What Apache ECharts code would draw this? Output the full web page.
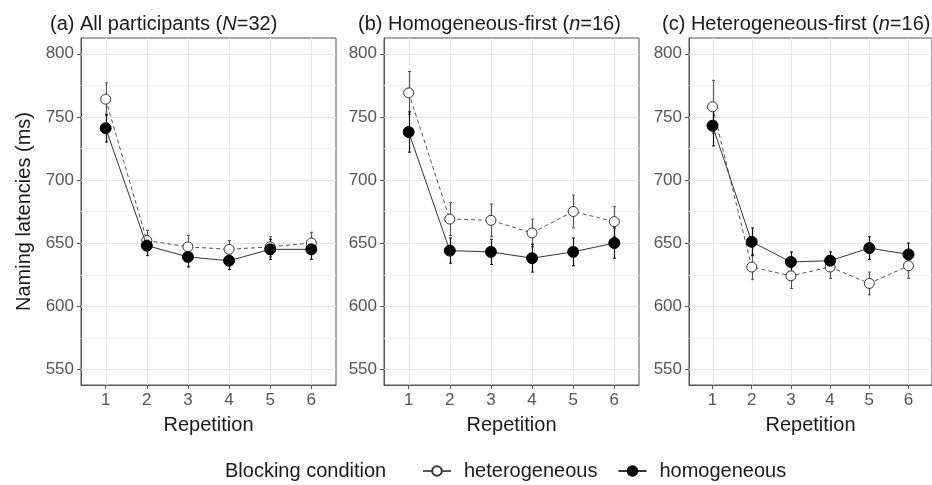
<!DOCTYPE html>
<html>
<head>
<meta charset="utf-8">
<script src="https://cdn.jsdelivr.net/npm/echarts@6/dist/echarts.min.js"></script>
<style>
  html, body { margin: 0; padding: 0; background: #fff; }
  #chart { width: 932px; height: 485px; }
</style>
</head>
<body>
<div id="chart"></div>
<script>
// Repetition levels (x) and axis ticks
const repetitions = [1, 2, 3, 4, 5, 6];
const yTicks = [550, 600, 650, 700, 750, 800];
const yMinorGrid = [575, 625, 675, 725, 775];

// Panel titles ({i|...} is set in italics)
const panelTitles = [
  '(a) All participants ({i|N}=32)',
  '(b) Homogeneous-first ({i|n}=16)',
  '(c) Heterogeneous-first ({i|n}=16)'
];

// Mean naming latencies (ms) per repetition
const heteroAll   = [764, 652, 647, 645, 647, 650];
const homoAll     = [741, 648, 639, 636, 645, 645];
const heteroHomFirst = [769, 669, 668, 658, 675, 667];
const homoHomFirst   = [738, 644, 643, 638, 643, 650];
const heteroHetFirst = [758, 631, 624, 631, 618, 632];
const homoHetFirst   = [743, 651, 635, 636, 646, 641];

// Error bar half-widths (ms)
const heteroAllErr   = [13, 8, 9, 7, 8, 8.5];
const homoAllErr     = [11, 8, 8, 7, 8, 8];
const heteroHomFirstErr = [17, 13, 13, 11, 13, 12];
const homoHomFirstErr   = [16, 10, 10, 11, 11, 12];
const heteroHetFirstErr = [21, 10, 10, 9, 9, 10];
const homoHetFirstErr   = [16, 11, 8, 7, 9, 9];

const panels = [
  { hetero: heteroAll, homo: homoAll, heteroErr: heteroAllErr, homoErr: homoAllErr },
  { hetero: heteroHomFirst, homo: homoHomFirst, heteroErr: heteroHomFirstErr, homoErr: homoHomFirstErr },
  { hetero: heteroHetFirst, homo: homoHetFirst, heteroErr: heteroHetFirstErr, homoErr: homoHetFirstErr }
];

const FONT = '"Liberation Sans", Arial, sans-serif';
const X_MIN = 0.4, X_MAX = 6.6, Y_MIN = 537.5, Y_MAX = 812.5;
const gridLefts = [81, 384, 689];
const titleLefts = [45, 353, 657];

function gridLineSeries(p, values, horizontal, color) {
  return {
    type: 'custom', xAxisIndex: p, yAxisIndex: p, silent: true, z: 1, animation: false,
    data: values.map(v => horizontal ? [X_MIN, v] : [v, Y_MIN]),
    renderItem(params, api) {
      const cs = params.coordSys;
      const pt = api.coord([api.value(0), api.value(1)]);
      const shape = horizontal
        ? { x1: cs.x, y1: Math.round(pt[1]) + 0.5, x2: cs.x + cs.width, y2: Math.round(pt[1]) + 0.5 }
        : { x1: Math.round(pt[0]) + 0.5, y1: cs.y, x2: Math.round(pt[0]) + 0.5, y2: cs.y + cs.height };
      return { type: 'line', shape, style: { stroke: color, lineWidth: 1 } };
    }
  };
}

function errorBarSeries(p, means, errs, color) {
  return {
    type: 'custom', xAxisIndex: p, yAxisIndex: p, silent: true, z: 3, animation: false,
    data: repetitions.map((r, i) => [r, means[i] - errs[i], means[i] + errs[i]]),
    encode: { x: 0, y: [1, 2] },
    renderItem(params, api) {
      const lo = api.coord([api.value(0), api.value(1)]);
      const hi = api.coord([api.value(0), api.value(2)]);
      const x = Math.round(lo[0]) + 0.5;
      return {
        type: 'group',
        children: [
          { type: 'line', shape: { x1: x, y1: lo[1], x2: x, y2: hi[1] }, style: { stroke: color, lineWidth: 1.2 } },
          { type: 'line', shape: { x1: x - 1.5, y1: lo[1], x2: x + 1.5, y2: lo[1] }, style: { stroke: color, lineWidth: 1 } },
          { type: 'line', shape: { x1: x - 1.5, y1: hi[1], x2: x + 1.5, y2: hi[1] }, style: { stroke: color, lineWidth: 1 } }
        ]
      };
    }
  };
}

const grids = [], xAxes = [], yAxes = [], titles = [], series = [];

panels.forEach((pd, p) => {
  grids.push({
    left: gridLefts[p], top: 38, width: 255, height: 347,
    show: true, borderColor: '#555', borderWidth: 1, backgroundColor: 'transparent'
  });
  xAxes.push({
    type: 'value', gridIndex: p, min: X_MIN, max: X_MAX,
    axisLine: { show: true, lineStyle: { color: '#555', width: 1 } },
    axisTick: { show: true, customValues: repetitions, length: 4, lineStyle: { color: '#555' } },
    axisLabel: { customValues: repetitions, fontSize: 17, color: '#555', margin: 7, fontFamily: FONT },
    splitLine: { show: false },
    name: 'Repetition', nameLocation: 'middle', nameGap: 30,
    nameTextStyle: { fontSize: 20, color: '#1a1a1a', fontFamily: FONT }
  });
  yAxes.push({
    type: 'value', gridIndex: p, min: Y_MIN, max: Y_MAX,
    axisLine: { show: true, lineStyle: { color: '#555', width: 1 } },
    axisTick: { show: true, customValues: yTicks, length: 4, lineStyle: { color: '#555' } },
    axisLabel: { customValues: yTicks, fontSize: 17, color: '#555', margin: 7, fontFamily: FONT },
    splitLine: { show: false },
    name: p === 0 ? 'Naming latencies (ms)' : '',
    nameLocation: 'middle', nameGap: 47,
    nameTextStyle: { fontSize: 20, color: '#1a1a1a', fontFamily: FONT }
  });
  titles.push({
    text: panelTitles[p], left: titleLefts[p], top: 9,
    textStyle: {
      fontSize: 20, fontWeight: 'normal', color: '#1a1a1a', fontFamily: FONT,
      rich: { i: { fontStyle: 'italic', fontSize: 20, color: '#1a1a1a', fontFamily: FONT } }
    }
  });

  series.push(gridLineSeries(p, yMinorGrid, true, '#f4f4f4'));
  series.push(gridLineSeries(p, yTicks, true, '#e6e6e6'));
  series.push(gridLineSeries(p, repetitions, false, '#e6e6e6'));
  series.push(errorBarSeries(p, pd.hetero, pd.heteroErr, '#555'));
  series.push(errorBarSeries(p, pd.homo, pd.homoErr, '#111'));
  series.push({
    type: 'line', name: 'heterogeneous', xAxisIndex: p, yAxisIndex: p, z: 4, animation: false,
    data: repetitions.map((r, i) => [r, pd.hetero[i]]),
    symbol: 'circle', symbolSize: 10, showAllSymbol: true,
    itemStyle: { color: '#fff', borderColor: '#333', borderWidth: 1 },
    lineStyle: { color: '#555', width: 1, type: [4, 3] }
  });
  series.push({
    type: 'line', name: 'homogeneous', xAxisIndex: p, yAxisIndex: p, z: 5, animation: false,
    data: repetitions.map((r, i) => [r, pd.homo[i]]),
    symbol: 'circle', symbolSize: 11, showAllSymbol: true,
    itemStyle: { color: '#000', borderColor: '#000', borderWidth: 1 },
    lineStyle: { color: '#333', width: 1 }
  });
});

const chart = echarts.init(document.getElementById('chart'));
chart.setOption({
  animation: false,
  backgroundColor: '#fff',
  textStyle: { fontFamily: FONT },
  title: titles,
  grid: grids,
  xAxis: xAxes,
  yAxis: yAxes,
  legend: {
    left: 417, top: 456, itemWidth: 28, itemHeight: 12, itemGap: 20,
    selectedMode: false,
    data: ['heterogeneous', 'homogeneous'],
    lineStyle: { type: 'solid' },
    textStyle: { fontSize: 20, color: '#1a1a1a', fontFamily: FONT, padding: [0, 0, 0, 8] }
  },
  graphic: [{
    type: 'text', left: 225, top: 461,
    style: { text: 'Blocking condition', font: '20px "Liberation Sans", Arial, sans-serif', fill: '#1a1a1a' }
  }],
  series
});
</script>
</body>
</html>
